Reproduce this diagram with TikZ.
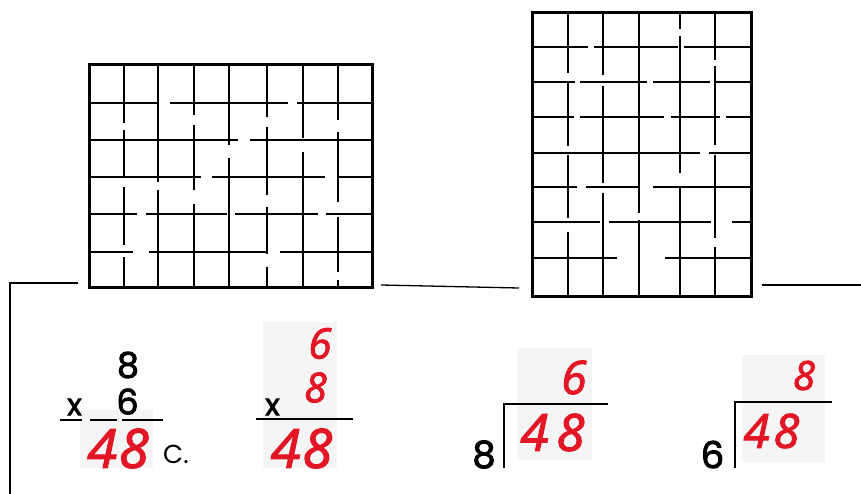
\documentclass[tikz,border=0pt]{standalone}
\usepackage{fontspec}
\newfontfamily\blk{Poppins}[FakeBold=2.6]
\newfontfamily\hand{Open Sans}[ItalicFeatures={FakeBold=2.2}]
\definecolor{ink}{RGB}{226,22,36}
\tikzset{
  border/.style={line width=3pt},
  wall/.style={line width=2.3pt},
  rulestroke/.style={line width=1.8pt},
  framestroke/.style={line width=1.3pt},
  patch/.style={fill=black!4, draw=none},
  blackfig/.style={inner sep=0pt, text=black, font=\blk\fontsize{#1}{#1}\selectfont},
  redfig/.style={inner sep=0pt, text=ink, font=\hand\itshape\fontsize{#1}{#1}\selectfont},
}
\begin{document}
\begin{tikzpicture}[x=1pt,y=-1pt]
\useasboundingbox (0,0) rectangle (861,494);
\fill[white] (0,0) rectangle (861,494);

% faint scan patches behind the red figures
\fill[patch] (80,410) rectangle (153,468);
\fill[patch] (263,322) rectangle (337,468);
\fill[patch] (517,348) rectangle (592,460);
\fill[patch] (742,355) rectangle (825,462);

% frame lines
\draw[framestroke] (10,494) -- (10,283) -- (78,283);
\draw[framestroke] (381,285) -- (519,288);
\draw[framestroke] (762,285) -- (861,285);

% ---- left maze grid (8 x 6) ----
\foreach \y/\a/\b in {102.7/89/158, 102.7/170/288, 102.7/297/372,
  140/89/238, 140/250/372,
  176.7/89/201, 176.7/212/325, 176.7/338/372,
  214.3/89/137, 214.3/146/227, 214.3/235/318, 214.3/326/372,
  251.7/89/133, 251.7/149/268, 251.7/280/372}
  \draw[wall] (\a,\y) -- (\b,\y);
\foreach \x/\a/\b in {124/65/123, 124/130/177, 124/187/245, 124/257/287,
  158.3/65/182, 158.3/190/287,
  194.3/65/115, 194.3/125/190, 194.3/204/287,
  229.3/65/145, 229.3/158/287,
  266.7/65/117, 266.7/127/195, 266.7/207/254, 266.7/267/287,
  302.7/65/138, 302.7/152/287,
  337.7/65/120, 337.7/132/202, 337.7/217/272, 337.7/280/287}
  \draw[wall] (\x,\a) -- (\x,\b);
\draw[border] (89,65) rectangle (372,287);

% ---- right maze grid (6 x 8) ----
\foreach \y/\a/\b in {46.7/532/588, 46.7/594/678, 46.7/684/751,
  81.7/532/575, 81.7/580/647, 81.7/653/710, 81.7/715/751,
  116.7/532/574, 116.7/580/664, 116.7/671/720, 116.7/726/751,
  153.3/532/700, 153.3/709/753,
  187.3/532/577, 187.3/586/640, 187.3/653/751,
  221.7/532/600, 221.7/609/711, 221.7/732/751,
  258.3/532/617, 258.3/665/751}
  \draw[wall] (\a,\y) -- (\b,\y);
\foreach \x/\a/\b in {568.3/13/73, 568.3/83/146, 568.3/155/218, 568.3/232/296,
  602.7/13/75, 602.7/86/183, 602.7/193/296,
  639.3/13/213, 639.3/220/296,
  680/13/29, 680/36/173, 680/187/296,
  715/13/60, 715/66/145, 715/155/238, 715/247/296}
  \draw[wall] (\x,\a) -- (\x,\b);
\draw[border] (532,13) rectangle (751,296);

% ---- problem 1: 8 x 6 = 48 ----
\node[blackfig=35] (p1a) at (128,365) {8};
\node[blackfig=30] (p1x) at (74.5,407) {x};
\node[blackfig=35] (p1b) at (127.5,401.5) {6};
\draw[rulestroke] (60,420) -- (82,420);
\draw[rulestroke] (90,420) -- (117,420);
\draw[rulestroke] (122,420) -- (163,420);
\node[redfig=54] (p1r) at (118,448.5) {4\hspace{2pt}8};
\node[inner sep=0pt, font=\fontspec{Poppins}\fontsize{26}{26}\selectfont] (p1c) at (176,454) {C.};

% ---- problem 2: 6 x 8 = 48 ----
\node[redfig=42] (p2a) at (320,343.5) {6};
\node[blackfig=30] (p2x) at (272.5,407) {x};
\node[redfig=41] (p2b) at (315.5,387.5) {8};
\draw[rulestroke] (256,419) -- (353,419);
\node[redfig=54] (p2r) at (301.5,448.5) {4\hspace{2pt}8};

% ---- problem 3: 48 / 8 = 6 ----
\node[blackfig=37] (p3d) at (484,454.5) {8};
\draw[rulestroke] (504,468) -- (504,404) -- (608,404);
\node[redfig=46] (p3q) at (574,377.5) {6};
\node[redfig=51] (p3n) at (552.5,432.5) {4\hspace{8pt}8};

% ---- problem 4: 48 / 6 = 8 ----
\node[blackfig=37] (p4d) at (712.5,454.5) {6};
\draw[rulestroke] (735,468) -- (735,402) -- (832,402);
\node[redfig=40] (p4q) at (804,375.5) {8};
\node[redfig=47] (p4n) at (771.5,431) {4\hspace{4pt}8};
\end{tikzpicture}
\end{document}
